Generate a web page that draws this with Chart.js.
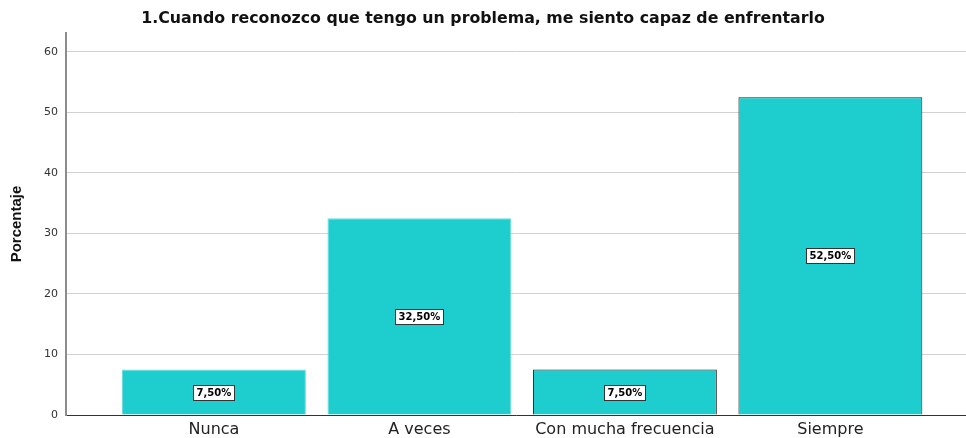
<!DOCTYPE html>
<html>
<head>
<meta charset="utf-8">
<script src="https://cdn.jsdelivr.net/npm/chart.js@4.4.0/dist/chart.umd.min.js"></script>
<style>
  html, body { margin: 0; padding: 0; background: #fff; }
  #wrap { width: 966px; height: 438px; }
</style>
</head>
<body>
<div id="wrap"><canvas id="grafico"></canvas></div>
<script>
// ------------------------------------------------------------
// DATOS
// ------------------------------------------------------------
const categorias = ["Nunca", "A veces", "Con mucha frecuencia", "Siempre"];
const porcentajes = [7.5, 32.5, 7.5, 52.5];
const etiquetas = ["7,50%", "32,50%", "7,50%", "52,50%"];
const ticksY = [0, 10, 20, 30, 40, 50, 60];

const colorBarra = "#1ecece";
const bordes = ["#6fdcdc", "#6fdcdc", "#222222", "#222222"];

const FUENTE = "'DejaVu Sans', Verdana, sans-serif";

// ------------------------------------------------------------
// ETIQUETAS EN CAJA (centro de cada barra)
// ------------------------------------------------------------
const etiquetasPlugin = {
  id: "etiquetasCaja",
  afterDatasetsDraw(chart) {
    const { ctx } = chart;
    const meta = chart.getDatasetMeta(0);
    ctx.save();
    ctx.font = "bold 10px " + FUENTE;
    ctx.textAlign = "center";
    ctx.textBaseline = "middle";
    meta.data.forEach((bar, i) => {
      const txt = etiquetas[i];
      const cx = bar.x;
      const cy = (bar.y + bar.base) / 2;
      const w = Math.round(ctx.measureText(txt).width + 6);
      const h = 15;
      const x0 = Math.round(cx - w / 2) + 0.5;
      const y0 = Math.round(cy - h / 2) + 0.5;
      ctx.fillStyle = "#ffffff";
      ctx.fillRect(x0, y0, w, h);
      ctx.strokeStyle = "#333";
      ctx.lineWidth = 1;
      ctx.strokeRect(x0, y0, w, h);
      ctx.fillStyle = "#000";
      ctx.fillText(txt, cx, cy + 1);
    });
    ctx.restore();
  },
};

// ------------------------------------------------------------
// GRÁFICO
// ------------------------------------------------------------
new Chart(document.getElementById("grafico"), {
  type: "bar",
  data: {
    datasets: [
      {
        data: porcentajes.map((v, i) => ({ x: i, y: v })),
        backgroundColor: colorBarra,
        borderColor: bordes,
        borderWidth: 1,
        borderSkipped: "bottom",
        categoryPercentage: 1,
        barPercentage: 0.895,
      },
    ],
  },
  options: {
    responsive: true,
    maintainAspectRatio: false,
    animation: false,
    layout: { padding: 0 },
    plugins: {
      legend: { display: false },
      tooltip: { enabled: false },
      title: {
        display: true,
        text: "1.Cuando reconozco que tengo un problema, me siento capaz de enfrentarlo",
        color: "#111",
        font: { family: FUENTE, size: 15.8, weight: "bold" },
        padding: { top: 9, bottom: 5 },
      },
    },
    scales: {
      x: {
        type: "linear",
        offset: false,
        min: -0.72,
        max: 3.66,
        afterBuildTicks: (axis) => {
          axis.ticks = categorias.map((c, i) => ({ value: i }));
        },
        afterFit: (scale) => { scale.height = 23; },
        grid: { display: false, drawTicks: false, offset: false },
        border: { display: true, color: "#333", width: 1 },
        ticks: {
          padding: 5,
          color: "#222",
          autoSkip: false,
          maxRotation: 0,
          font: { family: FUENTE, size: 16 },
          callback: (v) => categorias[v] ?? "",
        },
      },
      y: {
        min: 0,
        max: 63.1,
        afterBuildTicks: (axis) => {
          axis.ticks = ticksY.map((v) => ({ value: v }));
        },
        afterFit: (scale) => { scale.width = 66; },
        grid: { color: "#d2d2d2", lineWidth: 1, drawTicks: false },
        border: { display: true, color: "#8c8c8c", width: 2 },
        ticks: {
          padding: 8,
          color: "#333",
          font: { family: FUENTE, size: 11 },
        },
        title: {
          display: true,
          text: "Porcentaje",
          color: "#111",
          font: { family: "'Liberation Sans', Arial, sans-serif", size: 15, weight: "bold" },
          padding: { top: 8, bottom: 0 },
        },
      },
    },
  },
  plugins: [etiquetasPlugin],
});
</script>
</body>
</html>
